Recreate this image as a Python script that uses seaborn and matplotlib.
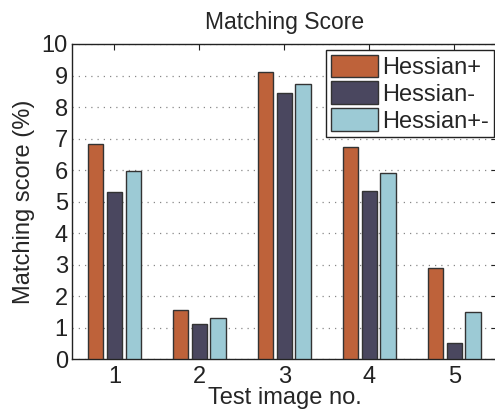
import matplotlib
matplotlib.use("Agg")
import matplotlib.pyplot as plt
import seaborn as sns
import pandas as pd

images = ["1", "2", "3", "4", "5"]
series = ["Hessian+", "Hessian-", "Hessian+-"]
hessian_plus = [6.84, 1.57, 9.10, 6.72, 2.89]
hessian_minus = [5.30, 1.11, 8.46, 5.35, 0.51]
hessian_pm = [5.97, 1.30, 8.72, 5.92, 1.49]
colors = ["#BE623A", "#4A475F", "#9CCAD5"]

df = pd.DataFrame({
    "image": images * 3,
    "series": [s for s in series for _ in images],
    "score": hessian_plus + hessian_minus + hessian_pm,
})

sns.set_style("white")
plt.rcParams['font.family'] = ['Liberation Sans', 'DejaVu Sans']

fig = plt.figure(figsize=(4.95, 4.17), dpi=100)
ax = fig.add_axes([0.1455, 0.1384, 0.858, 0.7561])

sns.barplot(data=df, x="image", y="score", hue="series", order=images,
            hue_order=series, palette=colors, width=0.66, gap=0.18,
            edgecolor="#333333", linewidth=1.0, saturation=1, ax=ax,
            errorbar=None, zorder=3)

ax.set_xlim(-0.5, 4.5)
ax.set_ylim(0, 10)
ax.set_yticks(range(0, 11))
ax.yaxis.grid(True, linestyle=(0, (1, 4)), color="#888888", linewidth=0.9, zorder=0)
ax.xaxis.grid(False)
ax.set_axisbelow(True)
for s in ax.spines.values():
    s.set_color("#222222")
    s.set_linewidth(1.0)
ax.tick_params(direction="in", length=4, width=0.8, top=True, right=True,
               labelsize=17, colors="#222222", pad=5)
ax.tick_params(axis="y", pad=3)
ax.set_xlabel("Test image no.", fontsize=17, labelpad=-1)
ax.set_ylabel("Matching score (%)", fontsize=17, labelpad=5)
ax.set_title("Matching Score", fontsize=16.5, pad=11)

leg = ax.legend(loc="upper right", bbox_to_anchor=(494/495, 1-50/417),
                bbox_transform=fig.transFigure, fontsize=17, frameon=True,
                fancybox=False, edgecolor="#222222", framealpha=1,
                handlelength=2.0, handleheight=1.1, handletextpad=0.2,
                labelspacing=0.1, borderpad=0.2, borderaxespad=0)
leg.get_frame().set_linewidth(1.0)

fig.savefig("out.png", dpi=100)
